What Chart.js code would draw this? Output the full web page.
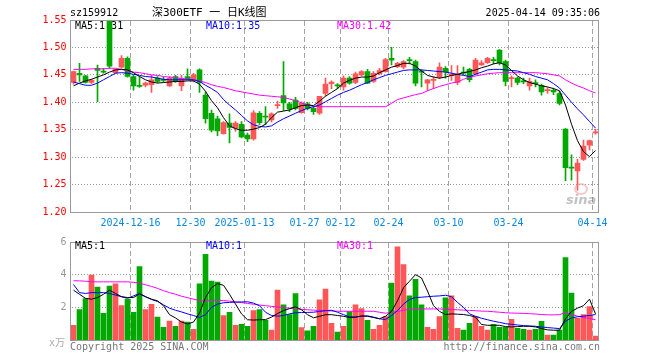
<!DOCTYPE html>
<html>
<head>
<meta charset="utf-8">
<script src="https://cdn.jsdelivr.net/npm/chart.js@4.4.1/dist/chart.umd.min.js"></script>
<style>
  body { margin: 0; background: #fff; }
  #wrap { position: relative; width: 660px; height: 360px; }
  canvas { position: absolute; left: 0; }
  #kline { top: 0; }
  #vol { top: 232px; }
</style>
</head>
<body>
<div id="wrap">
  <canvas id="kline" width="660" height="232"></canvas>
  <canvas id="vol" width="660" height="128"></canvas>
</div>
<script>
// trading days shown
const dates = [
  '2024-12-02','2024-12-03','2024-12-04','2024-12-05','2024-12-06','2024-12-09','2024-12-10','2024-12-11','2024-12-12','2024-12-13',
  '2024-12-16','2024-12-17','2024-12-18','2024-12-19','2024-12-20','2024-12-23','2024-12-24','2024-12-25','2024-12-26','2024-12-27',
  '2024-12-30','2024-12-31','2025-01-02','2025-01-03','2025-01-06','2025-01-07','2025-01-08','2025-01-09','2025-01-10','2025-01-13',
  '2025-01-14','2025-01-15','2025-01-16','2025-01-17','2025-01-20','2025-01-21','2025-01-22','2025-01-23','2025-01-24','2025-01-27',
  '2025-02-05','2025-02-06','2025-02-07','2025-02-10','2025-02-11','2025-02-12','2025-02-13','2025-02-14','2025-02-17','2025-02-18',
  '2025-02-19','2025-02-20','2025-02-21','2025-02-24','2025-02-25','2025-02-26','2025-02-27','2025-02-28','2025-03-03','2025-03-04',
  '2025-03-05','2025-03-06','2025-03-07','2025-03-10','2025-03-11','2025-03-12','2025-03-13','2025-03-14','2025-03-17','2025-03-18',
  '2025-03-19','2025-03-20','2025-03-21','2025-03-24','2025-03-25','2025-03-26','2025-03-27','2025-03-28','2025-03-31','2025-04-01',
  '2025-04-02','2025-04-03','2025-04-07','2025-04-08','2025-04-09','2025-04-10','2025-04-11','2025-04-14'
];

// x axis labels
const tickLabels = ['2024-12-16', '12-30', '2025-01-13', '01-27', '02-12', '02-24', '03-10', '03-24', '04-14'];

// K line
const open = [
  1.436,1.453,1.448,1.436,1.462,1.457,1.549,1.454,1.464,1.480,
  1.447,1.431,1.431,1.432,1.444,1.442,1.430,1.447,1.430,1.447,
  1.441,1.459,1.413,1.380,1.370,1.343,1.362,1.353,1.360,1.340,
  1.333,1.380,1.375,1.368,1.394,1.412,1.397,1.404,1.381,1.397,
  1.389,1.380,1.416,1.434,1.431,1.428,1.444,1.436,1.450,1.456,
  1.438,1.452,1.456,1.480,1.465,1.464,1.478,1.474,1.457,1.435,
  1.440,1.446,1.462,1.449,1.436,1.455,1.460,1.452,1.468,1.472,
  1.478,1.495,1.474,1.443,1.444,1.439,1.430,1.436,1.431,1.421,
  1.422,1.416,1.351,1.282,1.275,1.296,1.322,1.344
];
const high = [
  1.457,1.471,1.449,1.442,1.468,1.462,1.550,1.460,1.485,1.483,
  1.450,1.446,1.437,1.449,1.447,1.446,1.447,1.449,1.449,1.461,
  1.453,1.461,1.419,1.386,1.375,1.365,1.379,1.365,1.365,1.344,
  1.385,1.383,1.392,1.381,1.402,1.474,1.400,1.409,1.401,1.400,
  1.392,1.411,1.444,1.439,1.434,1.448,1.447,1.455,1.458,1.460,
  1.456,1.462,1.480,1.500,1.473,1.476,1.482,1.477,1.459,1.442,
  1.447,1.472,1.465,1.467,1.467,1.464,1.462,1.480,1.476,1.482,
  1.482,1.496,1.477,1.448,1.446,1.444,1.444,1.441,1.433,1.427,
  1.426,1.420,1.352,1.304,1.296,1.331,1.331,1.351
];
const low = [
  1.433,1.438,1.435,1.434,1.401,1.453,1.462,1.452,1.462,1.446,
  1.422,1.427,1.428,1.418,1.436,1.437,1.429,1.436,1.421,1.441,
  1.437,1.418,1.362,1.346,1.339,1.342,1.326,1.347,1.335,1.328,
  1.331,1.359,1.359,1.364,1.389,1.385,1.383,1.386,1.380,1.386,
  1.378,1.378,1.411,1.425,1.425,1.422,1.433,1.434,1.448,1.434,
  1.436,1.450,1.455,1.468,1.463,1.461,1.470,1.430,1.428,1.421,
  1.425,1.443,1.444,1.440,1.432,1.450,1.437,1.450,1.467,1.471,
  1.470,1.468,1.430,1.428,1.432,1.434,1.422,1.428,1.413,1.416,
  1.414,1.395,1.257,1.258,1.240,1.294,1.313,1.342
];
const close = [
  1.456,1.450,1.436,1.440,1.458,1.455,1.466,1.460,1.480,1.447,
  1.430,1.429,1.435,1.441,1.438,1.440,1.444,1.438,1.444,1.443,
  1.450,1.436,1.370,1.349,1.348,1.363,1.354,1.362,1.337,1.333,
  1.381,1.363,1.373,1.379,1.396,1.399,1.388,1.389,1.398,1.389,
  1.383,1.411,1.433,1.437,1.430,1.444,1.435,1.452,1.456,1.435,
  1.453,1.458,1.478,1.477,1.471,1.474,1.476,1.435,1.455,1.441,
  1.442,1.464,1.456,1.451,1.450,1.453,1.441,1.477,1.472,1.480,
  1.476,1.472,1.438,1.445,1.436,1.437,1.438,1.434,1.419,1.423,
  1.419,1.398,1.281,1.280,1.289,1.320,1.330,1.346
];

// price moving averages
const ma5 = [
  1.430,1.435,1.439,1.442,1.446,1.450,1.455,1.459,1.460,1.459,
  1.454,1.447,1.441,1.437,1.435,1.436,1.437,1.438,1.438,1.439,
  1.439,1.433,1.420,1.403,1.390,1.372,1.357,1.352,1.349,1.349,
  1.351,1.354,1.360,1.372,1.382,1.384,1.386,1.390,1.394,1.395,
  1.394,1.402,1.411,1.418,1.425,1.435,1.440,1.444,1.446,1.446,
  1.448,1.454,1.459,1.464,1.467,1.471,1.471,1.466,1.457,1.449,
  1.446,1.444,1.446,1.449,1.451,1.454,1.456,1.459,1.463,1.466,
  1.470,1.472,1.468,1.458,1.448,1.441,1.436,1.433,1.430,1.428,
  1.425,1.421,1.395,1.360,1.330,1.310,1.301,1.312
];
const ma10 = [
  1.437,1.434,1.431,1.431,1.435,1.441,1.447,1.453,1.454,1.453,
  1.451,1.449,1.447,1.446,1.444,1.442,1.441,1.441,1.441,1.441,
  1.441,1.438,1.431,1.425,1.418,1.405,1.395,1.386,1.376,1.366,
  1.359,1.356,1.355,1.357,1.364,1.370,1.375,1.380,1.385,1.389,
  1.392,1.395,1.401,1.407,1.413,1.418,1.422,1.427,1.432,1.436,
  1.441,1.445,1.449,1.452,1.455,1.458,1.459,1.459,1.459,1.458,
  1.457,1.456,1.455,1.453,1.451,1.449,1.447,1.451,1.455,1.459,
  1.460,1.460,1.459,1.458,1.457,1.454,1.451,1.447,1.444,1.441,
  1.434,1.426,1.413,1.400,1.388,1.377,1.365,1.353
];
const ma30 = [
  1.460,1.460,1.460,1.461,1.461,1.461,1.462,1.462,1.460,1.457,
  1.455,1.454,1.452,1.450,1.449,1.447,1.446,1.445,1.443,1.442,
  1.441,1.439,1.436,1.432,1.429,1.427,1.424,1.421,1.419,1.417,
  1.415,1.413,1.412,1.411,1.410,1.409,1.406,1.403,1.399,1.395,
  1.393,1.392,1.392,1.392,1.392,1.392,1.392,1.392,1.392,1.392,
  1.392,1.392,1.392,1.398,1.405,1.408,1.411,1.414,1.416,1.421,
  1.425,1.429,1.432,1.435,1.437,1.442,1.446,1.448,1.450,1.452,
  1.453,1.454,1.454,1.454,1.454,1.454,1.454,1.454,1.453,1.452,
  1.450,1.448,1.441,1.435,1.430,1.426,1.421,1.417
];

// volume (x万) and its moving averages
const volume = [
  0.90,1.86,2.54,3.98,3.24,1.64,3.30,3.44,2.10,2.50,
  1.70,4.50,1.86,2.18,1.40,0.78,1.16,0.84,1.16,1.10,
  0.66,3.44,5.24,3.60,3.54,1.50,1.70,0.90,0.96,0.84,
  1.80,1.86,1.20,0.60,3.06,2.16,1.56,2.84,0.76,0.56,
  0.84,2.46,3.12,1.02,0.48,0.84,1.74,2.16,1.92,1.20,
  0.66,0.90,1.44,3.48,5.70,4.62,2.70,3.72,2.16,0.78,
  0.66,1.44,2.58,2.70,0.72,0.60,1.02,1.44,0.84,0.60,
  0.96,0.78,0.78,1.26,0.72,0.66,0.60,0.66,1.14,0.30,
  0.30,0.60,5.04,2.88,1.32,1.56,2.04,0.24
];
const vma5 = [
  3.05,2.80,2.55,2.50,2.60,2.80,3.05,2.85,2.65,2.60,
  2.60,2.82,2.65,2.50,2.40,2.10,1.55,1.35,1.10,0.98,
  1.10,1.65,2.60,3.20,3.45,3.35,2.80,2.20,1.60,1.24,
  1.22,1.24,1.25,1.40,1.62,1.80,1.92,2.03,1.85,1.55,
  1.36,1.45,1.55,1.55,1.50,1.45,1.38,1.40,1.48,1.45,
  1.38,1.30,1.45,1.75,2.40,3.20,3.60,4.00,3.80,3.00,
  2.10,1.75,1.56,1.60,1.58,1.56,1.50,1.40,0.95,0.90,
  0.90,0.90,0.82,0.80,0.82,0.84,0.84,0.80,0.70,0.62,
  0.60,0.60,1.30,1.75,1.95,2.10,2.50,1.60
];
const vma10 = [
  3.40,2.90,2.85,2.90,2.90,2.90,2.85,2.75,2.65,2.56,
  2.70,2.85,2.65,2.48,2.36,2.15,1.95,1.82,1.72,1.60,
  1.50,1.38,1.55,2.00,2.20,2.28,2.30,2.32,2.33,2.34,
  2.26,2.10,1.70,1.50,1.46,1.50,1.60,1.67,1.68,1.69,
  1.70,1.75,1.80,1.82,1.70,1.55,1.42,1.40,1.45,1.48,
  1.40,1.30,1.25,1.50,1.80,2.20,2.48,2.60,2.62,2.65,
  2.68,2.70,2.74,2.65,2.30,2.00,1.60,1.45,1.33,1.24,
  1.15,1.08,1.00,0.96,0.92,0.88,0.86,0.84,0.80,0.76,
  0.73,0.70,1.15,1.35,1.42,1.46,1.50,1.56
];
const vma30 = [
  3.63,3.62,3.60,3.57,3.56,3.56,3.56,3.56,3.56,3.56,
  3.53,3.48,3.38,3.28,3.16,3.02,2.90,2.80,2.68,2.59,
  2.50,2.42,2.38,2.43,2.43,2.41,2.38,2.33,2.29,2.24,
  2.19,2.14,2.10,2.06,2.02,1.98,1.95,1.92,1.88,1.85,
  1.83,1.80,1.79,1.78,1.76,1.76,1.76,1.76,1.76,1.76,
  1.76,1.70,1.64,1.70,1.75,1.82,1.88,1.90,1.90,1.90,
  1.90,1.90,1.88,1.86,1.85,1.83,1.81,1.79,1.77,1.76,
  1.73,1.70,1.67,1.65,1.64,1.63,1.61,1.59,1.56,1.54,
  1.54,1.55,1.68,1.56,1.46,1.38,1.32,1.24
];

const RED = '#ff5757';
const GREEN = '#00a800';
const MONO = '"DejaVu Sans Mono", monospace';

Chart.defaults.font.family = MONO;
Chart.defaults.font.size = 10;

// red when the day closed up, green when down
let upDown = open.map((o, i) => close[i] >= o ? RED : GREEN);

// index of each date that gets a label + dashed line
let labelAt = {};
dates.forEach((d, i) => {
  tickLabels.forEach(t => { if (d.endsWith(t)) labelAt[i] = t; });
});

function lineSet(data, color) {
  return { type: 'line', data: data, borderColor: color, borderWidth: 1, pointRadius: 0, tension: 0, fill: false, order: 0 };
}

function xAxis(showLabels) {
  return {
    offset: true,
    grid: { display: false, drawTicks: false },
    border: { display: false },
    ticks: {
      display: showLabels,
      autoSkip: false,
      maxRotation: 0,
      minRotation: 0,
      padding: 5,
      labelOffset: -3,
      color: '#0a88dd',
      callback: (v, i) => labelAt[i] || ''
    },
    afterFit: s => { s.height = showLabels ? 20 : 0; }
  };
}

// dotted horizontal lines at the y ticks, dashed vertical lines at labelled days
// (painted pixel by pixel so they stay crisp)
function gridLines(chart) {
  let a = chart.chartArea, ctx = chart.ctx;
  let xs = chart.scales.x, ys = chart.scales.y;
  let half = (xs.getPixelForValue(1) - xs.getPixelForValue(0)) / 2;
  let left = Math.floor(a.left), right = Math.floor(a.right);
  let top = Math.floor(a.top), bottom = Math.floor(a.bottom);
  ctx.save();
  ctx.fillStyle = '#999';
  ys.ticks.forEach(t => {
    let y = Math.floor(ys.getPixelForValue(t.value));
    if (y < top + 2 || y > bottom - 2) return;
    for (let x = left + 2; x < right; x += 3) ctx.fillRect(x, y, 1, 1);
  });
  ctx.fillStyle = '#a4a4a4';
  Object.keys(labelAt).forEach(i => {
    let x = Math.floor(xs.getPixelForValue(+i) - half);
    for (let y = top + 1; y < bottom; y += 8) ctx.fillRect(x, y, 1, Math.min(5, bottom - y));
  });
  ctx.restore();
}

function frame(chart) {
  let a = chart.chartArea, ctx = chart.ctx;
  ctx.save();
  ctx.strokeStyle = '#999';
  ctx.lineWidth = 1;
  ctx.strokeRect(Math.floor(a.left) + 0.5, Math.floor(a.top) + 0.5,
    Math.floor(a.right) - Math.floor(a.left), Math.floor(a.bottom) - Math.floor(a.top));
  ctx.restore();
}

function legend(chart, y, items) {
  let ctx = chart.ctx;
  ctx.save();
  ctx.font = '10px ' + MONO;
  ctx.textBaseline = 'middle';
  items.forEach(it => { ctx.fillStyle = it[2]; ctx.fillText(it[0], it[1], y); });
  ctx.restore();
}

const klineDecor = {
  id: 'klineDecor',
  beforeDraw(chart) {
    chart.ctx.fillStyle = '#fff';
    chart.ctx.fillRect(0, 0, chart.width, chart.height);
  },
  beforeDatasetsDraw(chart) {
    let n = dates.length - 1;
    gridLines(chart);
    legend(chart, 26, [
      ['MA5:' + ma5[n].toFixed(2), 75, '#000'],
      ['MA10:' + ma10[n].toFixed(2), 206, '#0000ff'],
      ['MA30:' + ma30[n].toFixed(2), 337, '#ff00ff']
    ]);
  },
  afterDraw(chart) {
    let ctx = chart.ctx;
    frame(chart);
    ctx.save();
    ctx.textBaseline = 'middle';
    ctx.fillStyle = '#000';
    ctx.font = '10px ' + MONO;
    ctx.fillText('sz159912', 70, 13);
    ctx.textAlign = 'right';
    ctx.fillText('2025-04-14 09:35:06', 600, 13);
    ctx.textAlign = 'left';
    ctx.font = '11px ' + MONO + ', "Noto Sans CJK SC"';
    ctx.fillText('深300ETF 一 日K线图', 152, 13);
    // sina watermark
    ctx.globalAlpha = 0.45;
    ctx.strokeStyle = '#e88';
    ctx.lineWidth = 2;
    ctx.beginPath();
    ctx.ellipse(581, 189, 6, 5, 0, 0, Math.PI * 2);
    ctx.stroke();
    ctx.fillStyle = '#777';
    ctx.font = 'italic bold 13px "DejaVu Sans"';
    ctx.fillText('sina', 566, 201);
    ctx.restore();
  }
};

const volDecor = {
  id: 'volDecor',
  beforeDraw(chart) {
    chart.ctx.fillStyle = '#fff';
    chart.ctx.fillRect(0, 0, chart.width, chart.height);
  },
  beforeDatasetsDraw(chart) {
    gridLines(chart);
  },
  afterDraw(chart) {
    let ctx = chart.ctx;
    frame(chart);
    legend(chart, 14.5, [
      ['MA5:' + Math.floor(vma5[vma5.length - 1]), 75, '#000'],
      ['MA10:' + Math.floor(vma10[vma10.length - 1]), 206, '#0000ff'],
      ['MA30:' + Math.floor(vma30[vma30.length - 1]), 337, '#ff00ff']
    ]);
    ctx.save();
    ctx.textBaseline = 'middle';
    ctx.font = '10px ' + MONO + ', "Noto Sans CJK SC"';
    ctx.fillStyle = '#aaa';
    ctx.textAlign = 'right';
    ctx.fillText('x万', 65, 111.5);
    ctx.fillStyle = '#777';
    ctx.textAlign = 'left';
    ctx.fillText('Copyright 2025 SINA.COM', 70, 115);
    ctx.textAlign = 'right';
    ctx.fillText('http://finance.sina.com.cn', 600, 115);
    ctx.restore();
  }
};

// 日K图
let klineChart = new Chart(document.getElementById('kline'), {
  type: 'bar',
  data: {
    labels: dates,
    datasets: [
      lineSet(ma5, '#000'),
      lineSet(ma10, '#0000ff'),
      lineSet(ma30, '#ff00ff'),
      {
        // bodies
        data: open.map((o, i) => [o, close[i]]),
        backgroundColor: upDown,
        barThickness: 5,
        minBarLength: 1,
        grouped: false,
        order: 1
      },
      {
        // wicks
        data: low.map((l, i) => [l, high[i]]),
        backgroundColor: upDown,
        barThickness: 1,
        grouped: false,
        order: 2
      }
    ]
  },
  options: {
    responsive: false,
    animation: false,
    layout: { padding: { left: 0.5, right: 61.5, top: 20, bottom: 0 } },
    plugins: { legend: { display: false }, tooltip: { enabled: false } },
    scales: {
      x: xAxis(true),
      y: {
        min: 1.2,
        max: 1.55,
        grid: { display: false, drawTicks: false },
        border: { display: false },
        ticks: { stepSize: 0.05, padding: 4, color: '#ff0000', callback: v => v.toFixed(2) },
        afterFit: s => { s.width = 70; }
      }
    }
  },
  plugins: [klineDecor]
});

// 成交量
let volChart = new Chart(document.getElementById('vol'), {
  type: 'bar',
  data: {
    labels: dates,
    datasets: [
      lineSet(vma5, '#000'),
      lineSet(vma10, '#0000ff'),
      lineSet(vma30, '#ff00ff'),
      {
        data: volume,
        backgroundColor: upDown,
        barThickness: 5,
        grouped: false,
        order: 1
      }
    ]
  },
  options: {
    responsive: false,
    animation: false,
    layout: { padding: { left: 0.5, right: 61.5, top: 9, bottom: 20 } },
    plugins: { legend: { display: false }, tooltip: { enabled: false } },
    scales: {
      x: xAxis(false),
      y: {
        min: 0,
        max: 6,
        grid: { display: false, drawTicks: false },
        border: { display: false },
        ticks: { stepSize: 2, padding: 4, color: '#999', callback: v => v === 0 ? '' : v },
        afterFit: s => { s.width = 70; }
      }
    }
  },
  plugins: [volDecor]
});
</script>
</body>
</html>
